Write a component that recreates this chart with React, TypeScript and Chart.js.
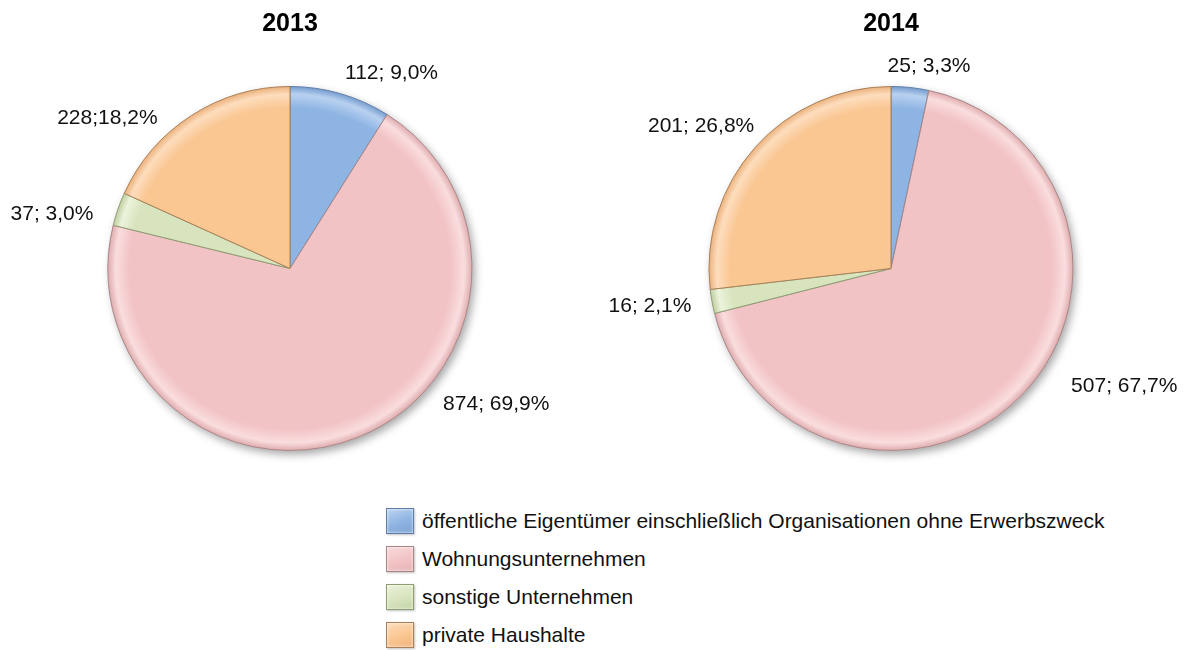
import React, { useEffect, useRef } from "react";
import { Chart, registerables } from "chart.js";

Chart.register(...registerables);

// ---- data ----
const categories = [
  "öffentliche Eigentümer einschließlich Organisationen ohne Erwerbszweck",
  "Wohnungsunternehmen",
  "sonstige Unternehmen",
  "private Haushalte",
];
const years = ["2013", "2014"];
const values2013 = [112, 874, 37, 228];
const values2014 = [25, 507, 16, 201];
const labels2013 = ["112; 9,0%", "874; 69,9%", "37; 3,0%", "228;18,2%"];
const labels2014 = ["25; 3,3%", "507; 67,7%", "16; 2,1%", "201; 26,8%"];

// ---- styles ----
const baseColors = ["#8EB4E3", "#F2C3C5", "#D8E4BE", "#FAC692"];
const lightColors = ["#B9D1F0", "#FADDDE", "#ECF3DC", "#FDDDBD"];
const darkColors = ["#7299CC", "#DDA9AB", "#BCCD9C", "#EAAE78"];
const borderColors = ["#5F7FA8", "#A88587", "#8E9E72", "#A98159"];
// label offsets (px) from the outer mid point of each slice
const labelOffsets2013 = [[51, -20], [138, -33], [-66, 5], [-84, 3]];
const labelOffsets2014 = [[19, -21], [102, -8], [-62, 5], [-54, -21]];

const FONT = "'Liberation Sans', Arial, Helvetica, sans-serif";

function sliceFill(c: any) {
  const i = c.dataIndex ?? 0;
  const chart = c.chart;
  const a = chart.chartArea;
  if (!a) return baseColors[i];
  const cx = (a.left + a.right) / 2;
  const cy = (a.top + a.bottom) / 2;
  const r = Math.min(a.right - a.left, a.bottom - a.top) / 2;
  const g = chart.ctx.createRadialGradient(cx, cy, 0, cx, cy, r);
  g.addColorStop(0, baseColors[i]);
  g.addColorStop(0.88, baseColors[i]);
  g.addColorStop(0.955, lightColors[i]);
  g.addColorStop(1, darkColors[i]);
  return g;
}

const shadowPlugin = {
  id: "pieShadow",
  beforeDatasetsDraw(chart: any) {
    const meta = chart.getDatasetMeta(0);
    const arc = meta.data[0];
    if (!arc) return;
    const { x, y, outerRadius } = arc.getProps(["x", "y", "outerRadius"], true);
    const ctx = chart.ctx;
    ctx.save();
    ctx.shadowColor = "rgba(0,0,0,0.35)";
    ctx.shadowBlur = 9;
    ctx.shadowOffsetX = 3;
    ctx.shadowOffsetY = 4;
    ctx.fillStyle = "#ffffff";
    ctx.beginPath();
    ctx.arc(x, y, outerRadius, 0, Math.PI * 2);
    ctx.fill();
    ctx.restore();
  },
};

const labelPlugin = {
  id: "sliceLabels",
  afterDatasetsDraw(chart: any, _args: any, opts: any) {
    const meta = chart.getDatasetMeta(0);
    const ctx = chart.ctx;
    ctx.save();
    ctx.font = `21px ${FONT}`;
    ctx.fillStyle = "#111111";
    ctx.textAlign = "center";
    ctx.textBaseline = "middle";
    meta.data.forEach((arc: any, i: number) => {
      const p = arc.getProps(["x", "y", "startAngle", "endAngle", "outerRadius"], true);
      const mid = (p.startAngle + p.endAngle) / 2;
      const ax = p.x + Math.cos(mid) * p.outerRadius;
      const ay = p.y + Math.sin(mid) * p.outerRadius;
      const off = opts.offsets[i];
      ctx.fillText(opts.texts[i], ax + off[0], ay + off[1]);
    });
    ctx.restore();
  },
};

function usePie(
  ref: React.RefObject<HTMLCanvasElement>,
  values: number[],
  texts: string[],
  offsets: number[][],
  title: string,
  padLeft: number,
  padRight: number
) {
  useEffect(() => {
    if (!ref.current) return;
    const chart = new Chart(ref.current, {
      type: "pie",
      data: {
        labels: categories,
        datasets: [
          {
            data: values,
            backgroundColor: sliceFill as any,
            borderColor: borderColors,
            borderWidth: 1,
            hoverOffset: 0,
            offset: 0,
          },
        ],
      },
      options: {
        animation: false,
        responsive: false,
        devicePixelRatio: 1,
        events: [],
        layout: { padding: { top: 0, left: padLeft, right: padRight, bottom: 19 } },
        plugins: {
          legend: { display: false },
          tooltip: { enabled: false },
          title: {
            display: true,
            text: title,
            color: "#000000",
            font: { size: 25, weight: "bold", family: FONT, lineHeight: 1.2 },
            padding: { top: 9, bottom: 47 },
          },
          sliceLabels: { texts, offsets },
        } as any,
      },
      plugins: [shadowPlugin, labelPlugin],
    });
    return () => chart.destroy();
  }, []);
}

const legendLight = ["#BCD3F0", "#F9DADB", "#EBF2DA", "#FDDCBB"];
const legendDark = ["#7FA3D3", "#E4B2B4", "#C3D2A6", "#F0B47E"];

export default function App() {
  const ref1 = useRef<HTMLCanvasElement>(null);
  const ref2 = useRef<HTMLCanvasElement>(null);
  usePie(ref1, values2013, labels2013, labelOffsets2013, years[0], 107.5, 95.5);
  usePie(ref2, values2014, labels2014, labelOffsets2014, years[1], 118.5, 112.5);

  const rowCenters = [521, 559, 597, 635];

  return (
    <div
      style={{
        position: "absolute",
        left: 0,
        top: 0,
        width: 1192,
        height: 650,
        background: "#ffffff",
        overflow: "hidden",
        fontFamily: FONT,
      }}
    >
      <canvas ref={ref1} width={568} height={470} style={{ position: "absolute", left: 0, top: 0 }} />
      <canvas ref={ref2} width={596} height={470} style={{ position: "absolute", left: 590, top: 0 }} />
      {categories.map((c, i) => (
        <React.Fragment key={c}>
          <div
            style={{
              position: "absolute",
              left: 386,
              top: rowCenters[i] - 13,
              width: 28,
              height: 26,
              boxSizing: "border-box",
              border: `1px solid ${borderColors[i]}`,
              background: `linear-gradient(160deg, ${legendLight[i]} 0%, ${baseColors[i]} 55%, ${legendDark[i]} 100%)`,
              boxShadow: "inset 0 0 3px rgba(255,255,255,0.9), 1px 1px 2px rgba(0,0,0,0.25)",
            }}
          />
          <div
            style={{
              position: "absolute",
              left: 422,
              top: rowCenters[i] - 14,
              height: 28,
              lineHeight: "28px",
              fontSize: 21,
              color: "#111111",
              whiteSpace: "nowrap",
            }}
          >
            {c}
          </div>
        </React.Fragment>
      ))}
    </div>
  );
}
